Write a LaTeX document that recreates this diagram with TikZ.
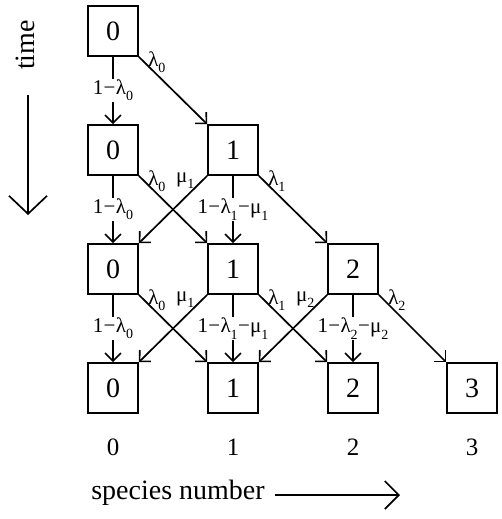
\documentclass[tikz,border=0pt]{standalone}
\usepackage{fontspec}
\setmainfont{Liberation Serif}
\usetikzlibrary{arrows.meta}
\newcommand\sbx[1]{\raisebox{-0.3em}{\fontsize{14}{14}\selectfont #1}}
\newcommand\mn{\kern0.3pt−\kern0.3pt}
\begin{document}
\begin{tikzpicture}[x=1pt,y=-1pt,
  box/.style={draw,line width=1.7pt,minimum size=50pt,inner sep=0pt,font=\fontsize{28}{28}\selectfont},
  arr/.style={line width=1.7pt,-{Straight Barb[length=8pt,width=16pt,line width=1.6pt]}},
  vlab/.style={fill=white,inner sep=1pt,font=\fontsize{21}{21}\selectfont},
  dlab/.style={inner sep=0pt,font=\fontsize{21}{21}\selectfont},
  axnum/.style={font=\fontsize{25}{25}\selectfont},
  axlab/.style={font=\fontsize{28}{28}\selectfont},
  bigarr/.style={line width=1.7pt,-{Straight Barb[length=18pt,width=38pt,line width=1.7pt]}}
]
\useasboundingbox (0,0) rectangle (502,519);
% boxes
\node[box] (b00) at (113,31) {0};
\node[box] (b10) at (113,150) {0};
\node[box] (b11) at (233,150) {1};
\node[box] (b20) at (113,269) {0};
\node[box] (b21) at (233,269) {1};
\node[box] (b22) at (353,269) {2};
\node[box] (b30) at (113,388) {0};
\node[box] (b31) at (233,388) {1};
\node[box] (b32) at (353,388) {2};
\node[box] (b33) at (472,388) {3};
% vertical arrows
\draw[arr] (b00) -- node[vlab] {1\mn λ\sbx{0}} (b10);
\draw[arr] (b10) -- node[vlab] {1\mn λ\sbx{0}} (b20);
\draw[arr] (b20) -- node[vlab] {1\mn λ\sbx{0}} (b30);
\draw[arr] (b11) -- node[vlab] {1\mn λ\sbx{1}\mn μ\sbx{1}} (b21);
\draw[arr] (b21) -- node[vlab] {1\mn λ\sbx{1}\mn μ\sbx{1}} (b31);
\draw[arr] (b22) -- node[vlab] {1\mn λ\sbx{2}\mn μ\sbx{2}} (b32);
% lambda arrows
\draw[arr] (b00.south east) -- (b11.north west);
\draw[arr] (b10.south east) -- (b21.north west);
\draw[arr] (b11.south east) -- (b22.north west);
\draw[arr] (b20.south east) -- (b31.north west);
\draw[arr] (b21.south east) -- (b32.north west);
\draw[arr] (b22.south east) -- (b33.north west);
% mu arrows
\draw[arr] (b11.south west) -- (b20.north east);
\draw[arr] (b21.south west) -- (b30.north east);
\draw[arr] (b22.south west) -- (b31.north east);
% lambda labels
\node[dlab] (l00) at ([shift={(18,5)}]b00.south east) {λ\sbx{0}};
\node[dlab] (l10) at ([shift={(18,5)}]b10.south east) {λ\sbx{0}};
\node[dlab] (l20) at ([shift={(18,5)}]b20.south east) {λ\sbx{0}};
\node[dlab] (l11) at ([shift={(18,5)}]b11.south east) {λ\sbx{1}};
\node[dlab] (l21) at ([shift={(18,5)}]b21.south east) {λ\sbx{1}};
\node[dlab] (l22) at ([shift={(18,5)}]b22.south east) {λ\sbx{2}};
% mu labels
\node[dlab] (m11) at ([shift={(-22,5)}]b11.south west) {μ\sbx{1}};
\node[dlab] (m21) at ([shift={(-22,5)}]b21.south west) {μ\sbx{1}};
\node[dlab] (m22) at ([shift={(-22,5)}]b22.south west) {μ\sbx{2}};
% axis numbers
\node[axnum] (n0) at (113,447) {0};
\node[axnum] (n1) at (233,447) {1};
\node[axnum] (n2) at (353,447) {2};
\node[axnum] (n3) at (472,447) {3};
% time
\node[axlab,rotate=90] (time) at (25,45) {time};
\coordinate (ta) at (28,95);
\coordinate (tb) at (28,215);
\draw[bigarr] (ta) -- (tb);
% species number
\node[axlab] (sp) at (178,493) {species number};
\coordinate (sa) at (275,495);
\coordinate (sb) at (400,495);
\draw[line width=1.7pt,-{Straight Barb[length=14pt,width=28pt,line width=1.7pt]}] (sa) -- (sb);
\end{tikzpicture}
\end{document}
